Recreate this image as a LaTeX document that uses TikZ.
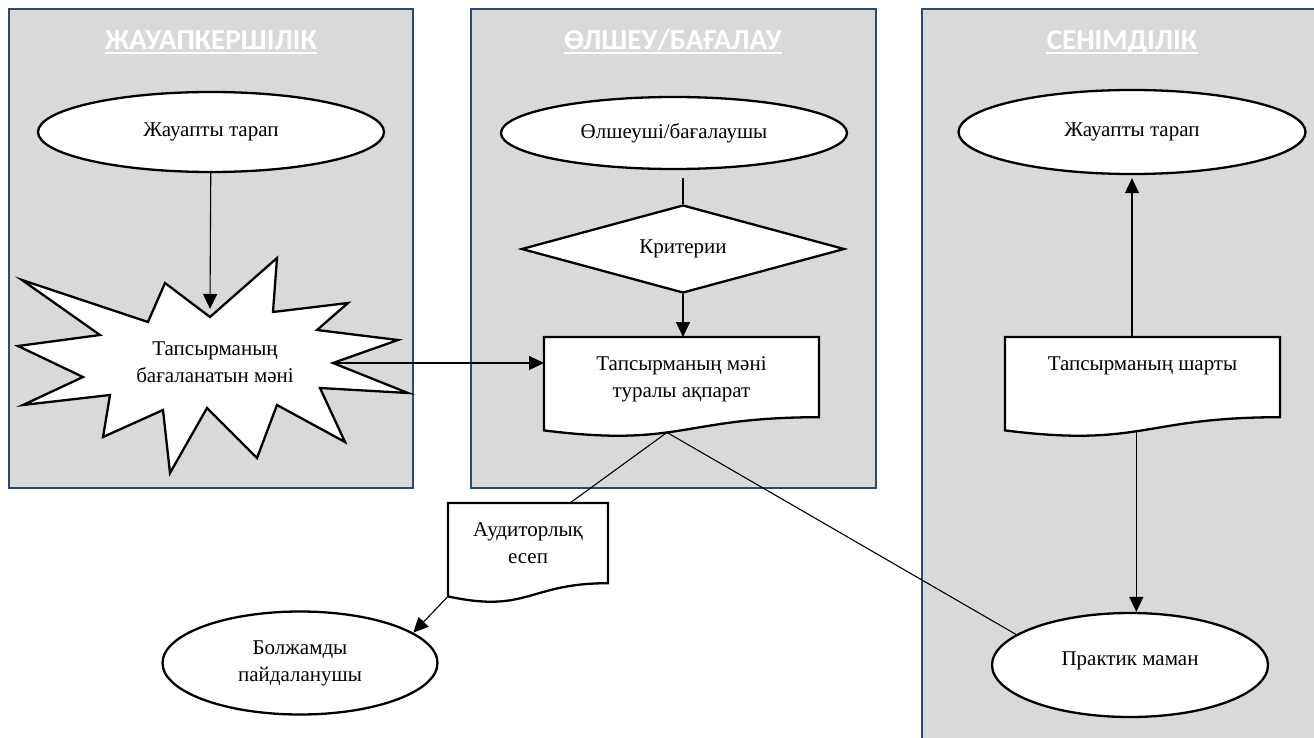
\documentclass[tikz,border=0pt]{standalone}
\usepackage{fontspec}
\setmainfont{Liberation Serif}
\newfontfamily\headfont{Carlito}
\usetikzlibrary{shapes.geometric,arrows.meta,calc}
\definecolor{panelfill}{HTML}{D9D9D9}
\definecolor{paneledge}{HTML}{2E4A68}
\begin{document}
\begin{tikzpicture}
      [x = 1pt, y = -1pt, line width = 1.1pt,
       panel/.style = {fill = panelfill, draw = paneledge, line width = 2.6pt},
       header/.style = {text = white, inner sep = 0pt,
         font = \headfont\bfseries\fontsize{29}{34}\selectfont},
       txt/.style = {align = center, inner sep = 0pt,
         font = \fontsize{21}{27}\selectfont},
       oval/.style = {txt, ellipse, draw, fill = white, line width = 2.3pt},
       shapeline/.style = {draw, fill = white, line width = 2.3pt},
       arr/.style = {-{Triangle[length = 15pt, width = 14pt]}}]
      \useasboundingbox (0,0) rectangle (1314,738);
      \clip (0,0) rectangle (1314,738);
      % three panels
      \foreach \lx/\rx/\by in {9/413/488, 471/876/488, 922/1330/760}
        \draw[panel] (\lx,9) rectangle (\rx,\by);
      \node[header, anchor = base] (h1) at (211,50) {ЖАУАПКЕРШІЛІК};
      \node[header, anchor = base] (h2) at (673,50) {ӨЛШЕУ/БАҒАЛАУ};
      \node[header, anchor = base] (h3) at (1122,50) {СЕНІМДІЛІК};
      \foreach \h in {h1, h2, h3}
        \draw[white, line width = 1.8pt]
          ($(\h.base west) + (0,3)$) -- ($(\h.base east) + (0,3)$);
      % ovals
      \node[oval, minimum width = 346pt, minimum height = 80pt] (resp) at (211,132) {Жауапты тарап};
      \node[oval, minimum width = 346pt, minimum height = 72pt] (meas) at (674,133) {Өлшеуші/бағалаушы};
      \node[oval, minimum width = 347pt, minimum height = 84pt] (resp2) at (1132,132) {Жауапты тарап};
      \node[oval, minimum width = 276pt, minimum height = 104pt, text depth = 12pt] (prac) at (1130,665) {Практик маман};
      \node[oval, minimum width = 275pt, minimum height = 103pt] (user) at (300,663) {Болжамды\\пайдаланушы};
      \node[txt, shapeline, diamond, aspect = 3.7, minimum width = 323pt,
        minimum height = 88pt] (crit) at (683,249) {Критерии};
      % star
      \draw[shapeline] (277,258) -- (273,312) -- (348,303) -- (317,330)
        -- (398,340) -- (333,363) -- (408,393) -- (320,388) -- (345,442)
        -- (277,405) -- (257,458) -- (207,408) -- (170,473) -- (163,410)
        -- (103,437) -- (110,395) -- (23,405) -- (83,377) -- (18,346)
        -- (100,335) -- (22,280) -- (148,322) -- (165,283) -- (210,317) -- cycle;
      \node[txt] (item) at (215,362) {Тапсырманың\\бағаланатын мәні};
      \coordinate (item-r) at (333,363);
      \coordinate (item-t) at (210,309);
      % documents
      \foreach \nm/\lx/\ty/\dw/\ps/\txt in
        {info/544/337/275/.57/{Тапсырманың мәні\\туралы ақпарат},
         rep/448/503/160/.5/{Аудиторлық\\есеп},
         cond/1005/337/275/.53/{Тапсырманың шарты}}
      {
        \pgfmathsetmacro\dr{\lx + \dw}
        \pgfmathsetmacro\dm{\lx + .5*\dw}
        \pgfmathsetmacro\da{\ty + 80.2}
        \pgfmathsetmacro\db{\ty + 110.75}
        \pgfmathsetmacro\dc{\ty + 93.4}
        \draw[shapeline] (\lx,\ty) coordinate (\nm-nw) -- (\dr,\ty) -- (\dr,\da)
          .. controls (\dm,\da) and (\dm,\db) .. (\lx,\dc)
          coordinate[pos = \ps] (\nm-low) coordinate (\nm-sw) -- cycle;
        \node[txt, anchor = north] (\nm) at (\dm,\ty + 19) {\txt};
      }
      \coordinate (rep-top) at ($(rep-nw) + (122,0)$);
      % connectors
      \draw[arr] (resp) -- (item-t);
      \draw[arr] (item-r) -- (item-r -| info-nw);
      \draw[shorten <= 8pt] (meas.south -| crit.north) -- (crit.north);
      \draw[arr] (crit.south) -- (crit.south |- info-nw);
      \draw (info-low) -- (rep-top);
      \draw (info-low) -- (prac.165);
      \draw[arr] (rep-sw) -- (user.15);
      \draw[arr, shorten > = 3pt] (resp2.south |- cond-nw) -- (resp2.south);
      \draw[arr] (cond-low) -- (cond-low |- prac.north);
\end{tikzpicture}
\end{document}
